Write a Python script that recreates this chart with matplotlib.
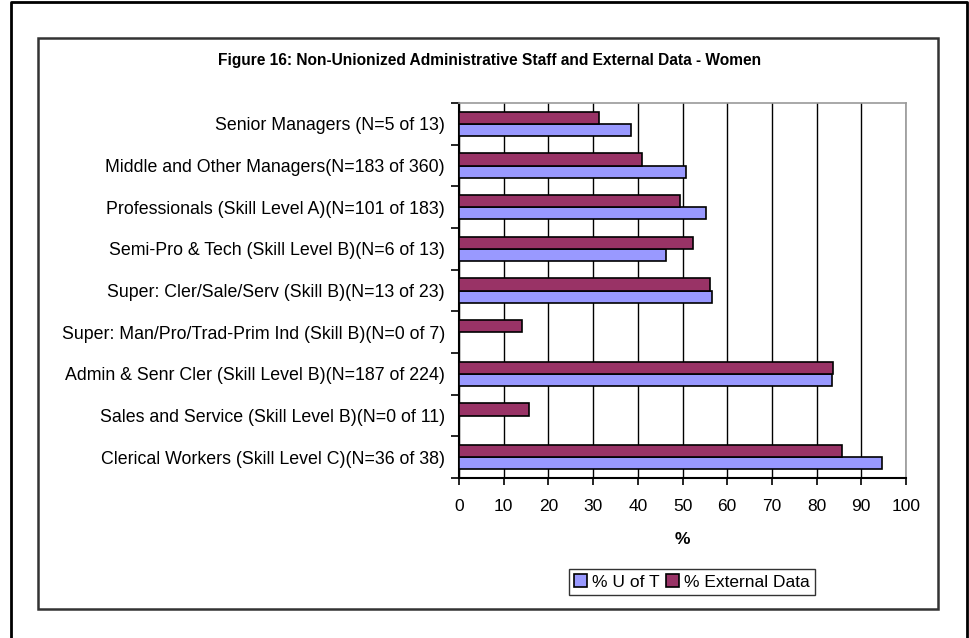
import numpy as np
import matplotlib.pyplot as plt
from matplotlib.patches import Rectangle
from matplotlib.lines import Line2D

categories = [
    "Senior Managers (N=5 of 13)",
    "Middle and Other Managers(N=183 of 360)",
    "Professionals (Skill Level A)(N=101 of 183)",
    "Semi-Pro & Tech (Skill Level B)(N=6 of 13)",
    "Super: Cler/Sale/Serv (Skill B)(N=13 of 23)",
    "Super: Man/Pro/Trad-Prim Ind (Skill B)(N=0 of 7)",
    "Admin & Senr Cler (Skill Level B)(N=187 of 224)",
    "Sales and Service (Skill Level B)(N=0 of 11)",
    "Clerical Workers (Skill Level C)(N=36 of 38)",
]
uoft = [38.5, 50.8, 55.2, 46.2, 56.5, 0.0, 83.5, 0.0, 94.7]
external = [31.3, 40.9, 49.4, 52.3, 56.2, 14.1, 83.7, 15.7, 85.6]
xticks = list(range(0, 101, 10))

plt.rcParams['font.family'] = ['Liberation Sans', 'DejaVu Sans']

W, H = 969, 638
fig = plt.figure(figsize=(W / 100, H / 100), dpi=100)

# outer frame (left, top, right)
fig.add_artist(Line2D([11 / W, 11 / W, 967 / W, 967 / W], [0, 1 - 2 / H, 1 - 2 / H, 0],
                      transform=fig.transFigure, color='black', lw=2))
# chart area box
fig.add_artist(Rectangle((38 / W, 1 - 609 / H), 900 / W, 571 / H, transform=fig.transFigure,
                         fill=False, edgecolor='#333333', lw=1.8))

ax = fig.add_axes([459 / W, 1 - 478 / H, 447 / W, 375 / H])
y = np.arange(len(categories))
h = 0.29
ax.barh(y + h / 2, uoft, height=h, color='#9999FF', edgecolor='black', lw=1.2,
        label='% U of T', zorder=3)
ax.barh(y - h / 2, external, height=h, color='#993366', edgecolor='black', lw=1.2,
        label='% External Data', zorder=3)

ax.set_xlim(0, 100)
ax.set_ylim(len(categories) - 0.5, -0.5)
ax.set_xticks(xticks)
ax.tick_params(axis='x', labelsize=12.5, length=5, width=1.2, pad=10, direction='out')
ax.xaxis.grid(True, color='black', lw=1)
ax.set_axisbelow(True)

ax.set_yticks(y)
ax.set_yticklabels(categories, fontsize=12.8)
ax.set_yticks(np.arange(-0.5, len(categories)), minor=True)
ax.tick_params(axis='y', which='major', length=0, pad=10)
ax.tick_params(axis='y', which='minor', length=6, width=1.2, direction='out')

for s in ['top', 'right']:
    ax.spines[s].set_color('#999999')
    ax.spines[s].set_linewidth(1.2)
for s in ['left', 'bottom']:
    ax.spines[s].set_color('black')
    ax.spines[s].set_linewidth(1.5)

ax.set_xlabel('%', fontsize=12.5, fontweight='bold', labelpad=13)

fig.text(490 / W, 1 - 60 / H, 'Figure 16: Non-Unionized Administrative Staff and External Data - Women',
         ha='center', va='center', fontsize=11.2, fontweight='bold',
         family=['Liberation Sans Narrow', 'Liberation Sans'])

leg = fig.legend(loc='center', bbox_to_anchor=(692 / W, 1 - 582 / H), ncol=2, fontsize=12.5,
                 frameon=True, fancybox=False, handlelength=0.7, handleheight=0.7,
                 handletextpad=0.3, columnspacing=0.4, borderpad=0.3)
leg.get_frame().set_edgecolor('black')
leg.get_frame().set_linewidth(1)

fig.savefig('out.png', dpi=100)
